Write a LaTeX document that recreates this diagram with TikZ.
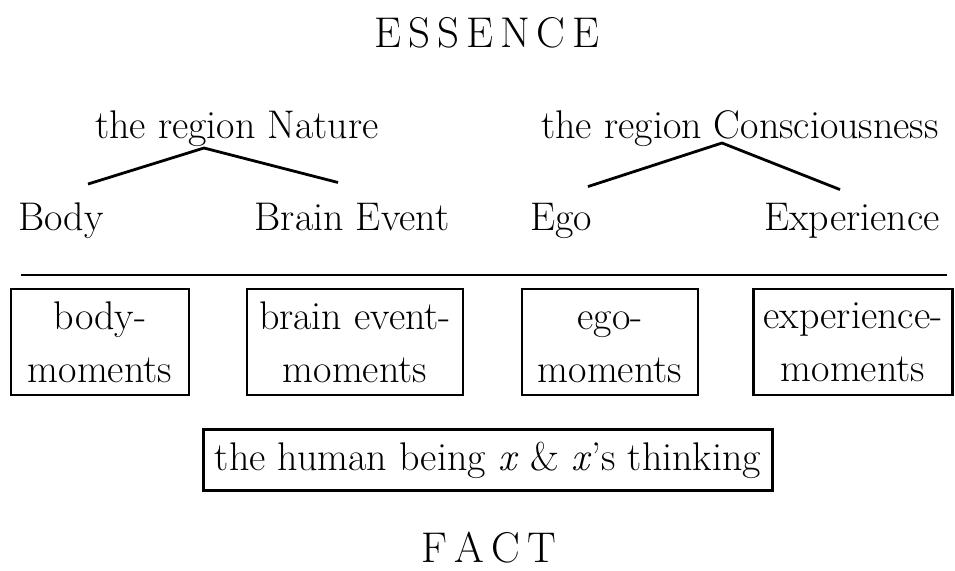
\documentclass[tikz,border=0pt]{standalone}
\usepackage{fontspec}
\usetikzlibrary{calc}

\newcommand\capgap{\kern7pt}
\tikzset{
	lbl/.style={anchor=base, inner sep=0pt, font=\fontsize{40}{53}\selectfont},
	momentbox/.style={draw, line width=2.8pt, align=center, inner sep=0pt, font=\fontsize{40}{53}\selectfont},
	head/.style={anchor=base, inner sep=0pt, font=\fontsize{43}{50}\selectfont},
	branch/.style={line width=2.8pt}
}

\begin{document}
\begin{tikzpicture}[x=1pt,y=-1pt]
	\useasboundingbox (0,0) rectangle (955,570);
	\node[head] (essence) at (487,47) {E\capgap S\capgap S\capgap E\capgap N\capgap C\capgap E};
	\node[head] (fact) at (489,562) {F\capgap A\capgap C\capgap T};

	\node[lbl] (nature) at (237,138) {the region Nature};
	\node[lbl] (consc) at (740,138) {the region Consciousness};
	\node[lbl] (body) at (61,230) {Body};
	\node[lbl] (brain) at (352,230) {Brain Event};
	\node[lbl] (ego) at (561,230) {Ego};
	\node[lbl] (exper) at (852,230) {Experience};

	\coordinate (natTip) at (204,148);
	\coordinate (conTip) at (722,143);
	\draw[branch] ($(body.north)+(27,-18)$)--(natTip)--($(brain.north)+(-14,-20)$);
	\draw[branch] ($(ego.north)+(27,-16)$)--(conTip)--($(exper.north)+(-12,-13)$);

	\draw[line width=1.2pt] (21,275)--(947,275);

	\node[momentbox, minimum width=178, minimum height=106] (bodym) at (100,342) {body-\\moments};
	\node[momentbox, minimum width=216, minimum height=106] (brainm) at (355,342) {brain event-\\moments};
	\node[momentbox, minimum width=176, minimum height=106] (egom) at (610,342) {ego-\vphantom{b}\\moments};
	\node[momentbox, minimum width=199, minimum height=106] (experm) at (853,342) {experience-\\moments};

	\node[momentbox, minimum width=569, minimum height=61] (human) at (488,460) {the human being \textit{x} \& \textit{x}'s thinking};
\end{tikzpicture}
\end{document}
